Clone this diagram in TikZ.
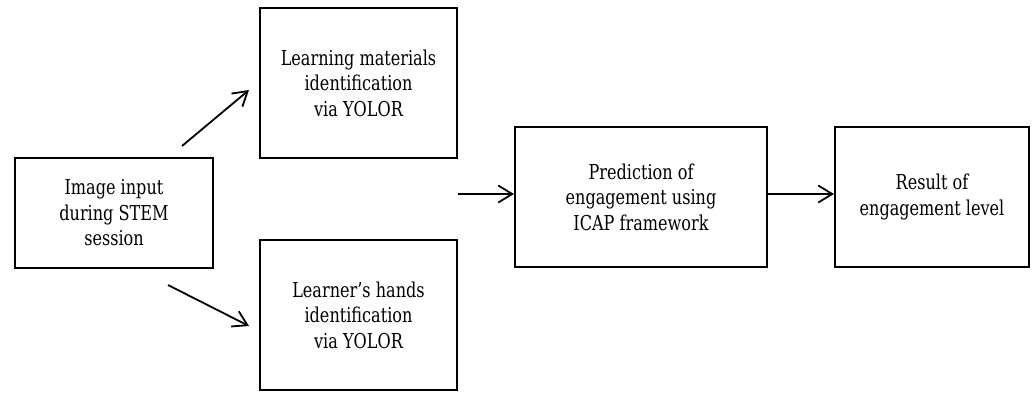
\documentclass[tikz,border=0pt]{standalone}
\usepackage{fontspec}
\setmainfont{DejaVu Serif}[FakeStretch=0.785]
\usetikzlibrary{arrows.meta}
\begin{document}
\begin{tikzpicture}[x=1pt,y=-1pt,
  blockbox/.style={draw=black, line width=2pt, align=center, inner sep=0pt,
    font=\fontsize{20.5pt}{25.5pt}\selectfont},
  flow/.style={line width=1.8pt, -{Straight Barb[length=14pt,width=17pt,line width=1.8pt]}}]
  \useasboundingbox (0,0) rectangle (1033,392);

  % processing blocks
  \node[blockbox, minimum width=198pt, minimum height=110pt] (input) at (114,213)
    {Image input\\during STEM\\session};
  \node[blockbox, minimum width=197pt, minimum height=150pt] (materials) at (358.5,83)
    {Learning materials\\identification\\via YOLOR};
  \node[blockbox, minimum width=197pt, minimum height=150pt] (hands) at (358.5,315)
    {Learner’s hands\\identification\\via YOLOR};
  \node[blockbox, minimum width=252pt, minimum height=140pt] (predict) at (641,197)
    {Prediction of\\engagement using\\ICAP framework};
  \node[blockbox, minimum width=194pt, minimum height=140pt] (result) at (932,197)
    {Result of\\engagement level};

  % free arrow ends
  \coordinate (upfrom) at (182,146);
  \coordinate (upto) at (249,90);
  \coordinate (downfrom) at (168,285);
  \coordinate (downto) at (249,326);
  \coordinate (merge) at (458,194);

  \draw[flow] (upfrom) -- (upto);
  \draw[flow] (downfrom) -- (downto);
  \draw[flow] (merge) -- (predict.west |- merge);
  \draw[flow] (predict.east |- merge) -- (result.west |- merge);
\end{tikzpicture}
\end{document}
